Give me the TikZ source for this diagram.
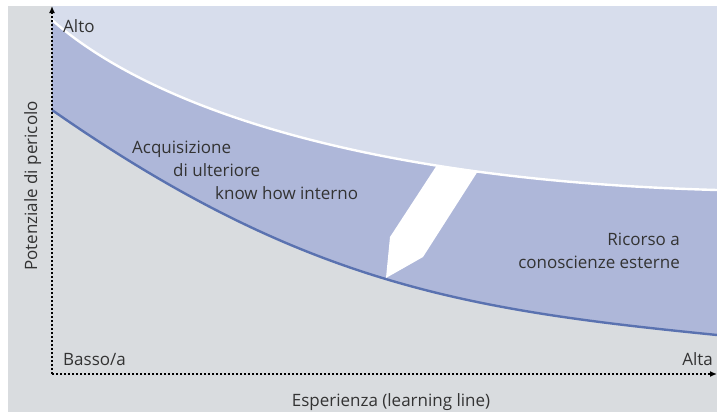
\documentclass[tikz,border=0pt]{standalone}
\usepackage{fontspec}
\setmainfont{Open Sans}
\usetikzlibrary{calc,arrows.meta}

\definecolor{bggray}{HTML}{D9DCDF}
\definecolor{skylav}{HTML}{D7DDEC}
\definecolor{bandblue}{HTML}{AEB7D9}
\definecolor{curveblue}{HTML}{5A72B0}
\definecolor{txtgray}{HTML}{333333}

\tikzset{
  lbl/.style={inner sep=0pt, text=txtgray, font=\fontsize{17}{21}\selectfont},
  axis/.style={line width=2.2pt, dash pattern=on 2pt off 2pt, -{Latex[length=7pt,width=6pt]}},
}

\begin{document}
\begin{tikzpicture}[x=1pt,y=-1pt]
        \useasboundingbox (0,0) rectangle (717,415);

        % Background
        \fill [bggray] (8,6) rectangle (717,412);

        % Axis corners
        \coordinate (O) at (52,374);
        \coordinate (Ytop) at (52,6);
        \coordinate (Xend) at (717,374);
        \coordinate (TopR) at (717,6);

        % Curve ends
        \coordinate (HighL) at (52,20);
        \coordinate (HighR) at (717,190);
        \coordinate (LowL) at (52,110);
        \coordinate (LowR) at (717,335);

        % Areas
        \fill [skylav] (Ytop) -- (HighL) .. controls (145,102) and (350,180) .. (HighR) -- (TopR) -- cycle;
        \fill [bandblue] (HighL) .. controls (145,102) and (350,180) .. (HighR)
              -- (LowR) .. controls (467,310) and (303,285) .. (LowL) -- cycle;

        % Curves
        \draw [white, line width=2.4pt] (HighL) .. controls (145,102) and (350,180) .. (HighR);
        \draw [curveblue, line width=2.4pt] (LowL) .. controls (303,285) and (467,310) .. (LowR);

        % White arrow
        \coordinate (ArrTL) at (437,165);
        \coordinate (ArrTR) at (478,171);
        \coordinate (ArrR) at (423,257);
        \coordinate (ArrTip) at (386,278);
        \coordinate (ArrL) at (390,237);
        \fill [white] (ArrTL) -- (ArrTR) -- (ArrR) -- (ArrTip) -- (ArrL) -- cycle;

        % Axes
        \draw [axis] (O) -- (Ytop);
        \draw [axis] (O) -- (Xend);

        % Labels
        \node (Alto) [lbl, anchor=base west] at (63,32) {Alto};
        \node (Basso) [lbl, anchor=base west] at (63,365) {Basso/a};
        \node (Alta) [lbl, anchor=base east] at (713,365) {Alta};
        \node (Esp) [lbl, anchor=base] at (391,406) {Esperienza (learning line)};
        \node (Pot) [lbl, anchor=base, rotate=90] at (37,186) {Potenziale di pericolo};

        % Band texts
        \node (Acq) [lbl, anchor=base west] at (132,153) {Acquisizione};
        \node (Ult) [lbl, anchor=base west] at (173,176) {di ulteriore};
        \node (Know) [lbl, anchor=base west] at (215,199) {know how interno};

        \node (Ric) [lbl, anchor=base east] at (680,245) {Ricorso a};
        \node (Con) [lbl, anchor=base east] at (680,268) {conoscienze esterne};
\end{tikzpicture}
\end{document}
